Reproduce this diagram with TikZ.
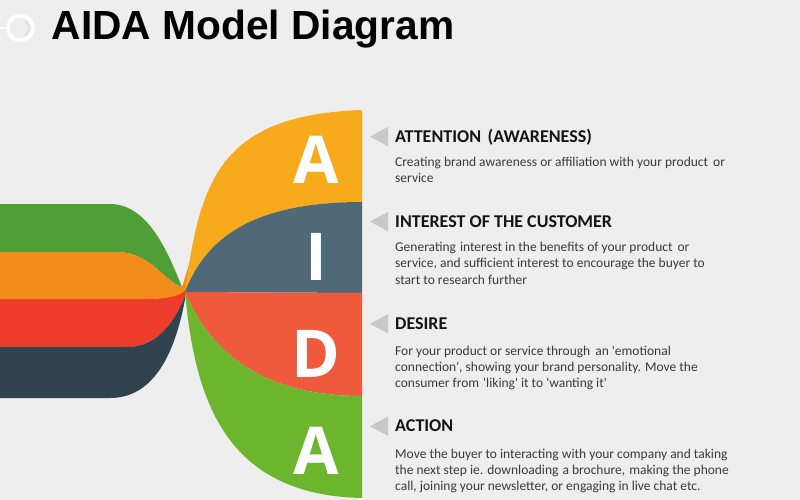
\documentclass[tikz,border=0pt]{standalone}
\usepackage{fontspec}
\setmainfont{Carlito}
\newfontfamily\titlefont{Liberation Sans}
\newfontfamily\letterfont{Open Sans}
\definecolor{bg}{RGB}{239,238,239}
\definecolor{rorange}{RGB}{247,170,28}
\definecolor{rslate}{RGB}{80,105,118}
\definecolor{rred}{RGB}{240,90,60}
\definecolor{rgreen}{RGB}{108,182,46}
\definecolor{lgreen}{RGB}{80,158,55}
\definecolor{lorange}{RGB}{242,140,26}
\definecolor{lred}{RGB}{238,60,43}
\definecolor{lslate}{RGB}{50,67,80}
\definecolor{tri}{RGB}{200,200,200}
\definecolor{headc}{RGB}{20,20,20}
\definecolor{bodyc}{RGB}{58,58,58}
\newcommand{\bodytext}[1]{\parbox[t]{400pt}{\raggedright #1}}
\tikzset{
  heading/.style={anchor=base west, inner sep=0pt, text=headc, font=\fontsize{18}{20}\selectfont\bfseries},
  body/.style={anchor=base west, inner sep=0pt, text=bodyc, font=\fontsize{13.5}{16.2}\selectfont},
  bigletter/.style={anchor=base, inner sep=0pt, text=white, font=\letterfont\fontsize{66}{70}\selectfont\bfseries},
  pointer/.style={fill=tri, draw=none}
}
\begin{document}
\begin{tikzpicture}[x=1pt,y=-1pt]
\useasboundingbox (0,0) rectangle (800,500);
\fill[bg] (0,0) rectangle (800,500);
% icon
\draw[white, line width=2.5] (0,28) -- (8,28);
\draw[white, line width=3.5] (20.5,28) circle (12.5);
\draw[gray!35, line width=0.8] (20.5,28) ++(60:8.5) arc (60:-60:8.5);
\node[anchor=base west, inner sep=0pt, font=\titlefont\fontsize{40.7}{44}\selectfont\bfseries] (title) at (51.5,40) {AIDA Model Diagram};
% left bands
\fill[lgreen] (0,204) -- (110,204) .. controls (150,204) and (170,258) .. (182,287)
  .. controls (165,282) and (150,252) .. (117,252) -- (0,252) -- cycle;
\fill[lred] (0,299) -- (143,299) .. controls (165,299) and (177,296) .. (185,290)
  .. controls (192,265) and (199,238) .. (207,214) .. controls (201,240) and (194,270) .. (186,294)
  .. controls (176,318) and (160,347) .. (127,347) -- (0,347) -- cycle;
\fill[lorange] (0,252) -- (117,252) .. controls (150,252) and (165,282) .. (182,287)
  .. controls (190,262) and (197,236) .. (208,212) .. controls (199,238) and (192,266) .. (185,291)
  .. controls (177,297) and (165,299) .. (143,299) -- (0,299) -- cycle;
\fill[lslate] (0,347) -- (127,347) .. controls (160,347) and (176,318) .. (186,294)
  .. controls (178,340) and (160,398) .. (110,398) -- (0,398) -- cycle;
% right bands
\fill[rorange] (185,292) .. controls (200,180) and (220,115) .. (362,110) -- (362,202)
  .. controls (250,202) and (205,240) .. (185,292) -- cycle;
\fill[rslate] (185,292) .. controls (205,240) and (250,202) .. (362,202) -- (362,293) -- cycle;
\fill[rred] (185,292) -- (362,293) -- (362,396) .. controls (250,396) and (205,340) .. (185,292) -- cycle;
\fill[rgreen] (185,292) .. controls (205,340) and (250,396) .. (362,396) -- (362,498)
  .. controls (225,495) and (195,400) .. (185,292) -- cycle;
% letters
\node[bigletter] (la) at (316,183) {A};
\node[bigletter] (li) at (316,280) {I};
\node[bigletter] (ld) at (316,377) {D};
\node[bigletter] (lb) at (316,474) {A};
% pointers
\foreach \n/\y in {p1/136.6, p2/221.6, p3/323.8, p4/426.2}{
  \fill[pointer] (388,\y-9.7) -- (388,\y+9.7) -- (370,\y) -- cycle;
  \coordinate (\n) at (370,\y);
}
% texts
\node[heading] (h1) at (395,142.3) {ATTENTION\hspace{2.5pt} (AWARENESS)};
\node[body] (b1) at (395,166.7) {\bodytext{Creating brand awareness or affiliation with your product\hspace{2pt} or\\service}};
\node[heading] (h2) at (395,227.3) {INTEREST OF THE CUSTOMER};
\node[body] (b2) at (395,251.7) {\bodytext{Generating\hspace{1pt} interest in the benefits of your product\hspace{2pt} or\\service, and sufficient interest to encourage the buyer to\\start to research further}};
\node[heading] (h3) at (395,329.3) {DESIRE};
\node[body] (b3) at (395,355) {\bodytext{For your product or service through\hspace{2pt} an \textquotesingle emotional\\connection\textquotesingle, showing your brand personality. Move the\\consumer from\hspace{1pt} \textquotesingle liking\textquotesingle{} it to \textquotesingle wanting it\textquotesingle}};
\node[heading] (h4) at (395,431.7) {ACTION};
\node[body] (b4) at (395,458.3) {\bodytext{Move the buyer to interacting with your company and taking\\the next step ie. downloading\hspace{1pt} a brochure,\hspace{1pt} making the phone\\call, joining your newsletter, or engaging in live chat etc.}};
\end{tikzpicture}
\end{document}
